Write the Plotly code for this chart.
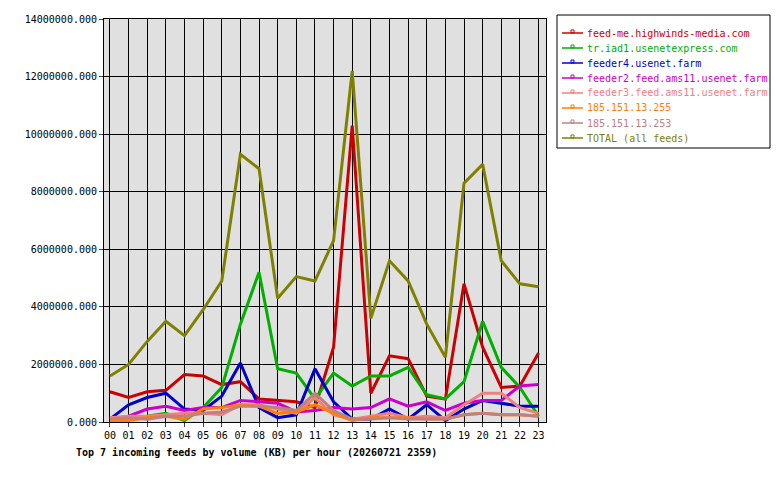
import plotly.graph_objects as go

hours = [f"{h:02d}" for h in range(24)]
names = ["feed-me.highwinds-media.com", "tr.iad1.usenetexpress.com", "feeder4.usenet.farm",
         "feeder2.feed.ams11.usenet.farm", "feeder3.feed.ams11.usenet.farm",
         "185.151.13.255", "185.151.13.253", "TOTAL (all feeds)"]
colors = ["#cc0000", "#00b000", "#0000cc", "#cc00cc", "#f08080", "#ff8000", "#c08080", "#808000"]
red = [1.05,0.85,1.05,1.1,1.65,1.6,1.3,1.4,0.8,0.75,0.7,0.5,2.6,10.3,1.0,2.3,2.2,0.9,0.8,4.8,2.6,1.2,1.25,2.4]
green = [0.1,0.15,0.2,0.3,0.05,0.5,1.2,3.4,5.2,1.85,1.7,0.8,1.7,1.25,1.6,1.6,1.9,0.95,0.8,1.4,3.5,1.9,1.2,0.2]
blue = [0.1,0.6,0.85,1.0,0.45,0.4,0.9,2.05,0.5,0.15,0.25,1.85,0.7,0.1,0.1,0.45,0.1,0.6,0.05,0.45,0.75,0.65,0.55,0.55]
magenta = [0.1,0.2,0.45,0.55,0.4,0.5,0.5,0.75,0.7,0.65,0.35,0.4,0.5,0.45,0.5,0.8,0.55,0.7,0.4,0.65,0.75,0.75,1.25,1.3]
pink = [0.15,0.2,0.2,0.25,0.3,0.3,0.25,0.6,0.6,0.45,0.3,0.85,0.25,0.1,0.2,0.3,0.15,0.2,0.15,0.6,1.0,1.0,0.5,0.3]
orange = [0.05,0.05,0.15,0.2,0.1,0.45,0.5,0.6,0.55,0.3,0.35,0.6,0.3,0.05,0.15,0.15,0.15,0.1,0.1,0.25,0.3,0.25,0.25,0.2]
rosy = [0.1,0.15,0.1,0.2,0.2,0.3,0.35,0.55,0.55,0.5,0.4,1.0,0.4,0.1,0.1,0.15,0.1,0.1,0.1,0.25,0.3,0.25,0.25,0.2]
total = [1.6,2.0,2.8,3.5,3.0,3.9,4.9,9.3,8.8,4.3,5.05,4.9,6.3,12.2,3.6,5.6,4.9,3.4,2.25,8.3,8.95,5.6,4.8,4.7]
series = [red, green, blue, magenta, pink, orange, rosy, total]

F = "DejaVu Sans Mono"
OFF = 8  # page body margin
W, H = 780 - OFF, 480 - OFF
L, R, T, B = 104 - OFF, 546 - OFF, 19 - OFF, 422 - OFF
def px(x): return (x - OFF - L) / (R - L)
def py(y): return (B - (y - OFF)) / (B - T)

fig = go.Figure()
for n, c, s in zip(names, colors, series):
    fig.add_trace(go.Scatter(x=list(range(24)), y=[v * 1e6 for v in s], name=n, mode="lines",
                             line=dict(color=c, width=3), showlegend=False))

shapes = [dict(type="rect", xref="paper", yref="paper", x0=px(557), x1=px(770), y0=py(15), y1=py(148),
               line=dict(color="black", width=1), fillcolor="white")]
anns = []
for i, (n, c) in enumerate(zip(names, colors)):
    yy = 33 + i * 15
    shapes.append(dict(type="line", xref="paper", yref="paper", x0=px(562), x1=px(583), y0=py(yy), y1=py(yy),
                       line=dict(color=c, width=1.5)))
    shapes.append(dict(type="rect", xref="paper", yref="paper", x0=px(571), x1=px(574), y0=py(yy), y1=py(yy - 3),
                       line=dict(color=c, width=1)))
    anns.append(dict(text=n, xref="paper", yref="paper", x=px(585), y=py(yy), xanchor="left", yanchor="middle",
                     showarrow=False, font=dict(family=F, size=10, color=c)))
anns.append(dict(text="<b>Top 7 incoming feeds by volume (KB) per hour (20260721 2359)</b>",
                 xref="paper", yref="paper", x=px(74), y=py(452), xanchor="left", yanchor="middle",
                 showarrow=False, font=dict(family=F, size=10)))

fig.update_layout(
    width=W, height=H, paper_bgcolor="white", plot_bgcolor="#e0e0e0",
    margin=dict(l=L, r=W - R, t=T, b=H - B, autoexpand=False),
    font=dict(family=F, size=10, color="black"),
    xaxis=dict(range=[-0.32, 23.4], tickmode="array", tickvals=list(range(24)), ticktext=hours,
               showgrid=True, gridcolor="black", gridwidth=1, ticks="outside", ticklen=4,
               showline=True, linecolor="black", mirror=True, zeroline=False),
    yaxis=dict(range=[0, 14e6], dtick=2e6, tickformat=".3f", showgrid=True, gridcolor="black",
               ticks="outside", ticklen=4, showline=True, linecolor="black", mirror=True, zeroline=False),
    shapes=shapes, annotations=anns,
)
fig.write_html("out.html")
